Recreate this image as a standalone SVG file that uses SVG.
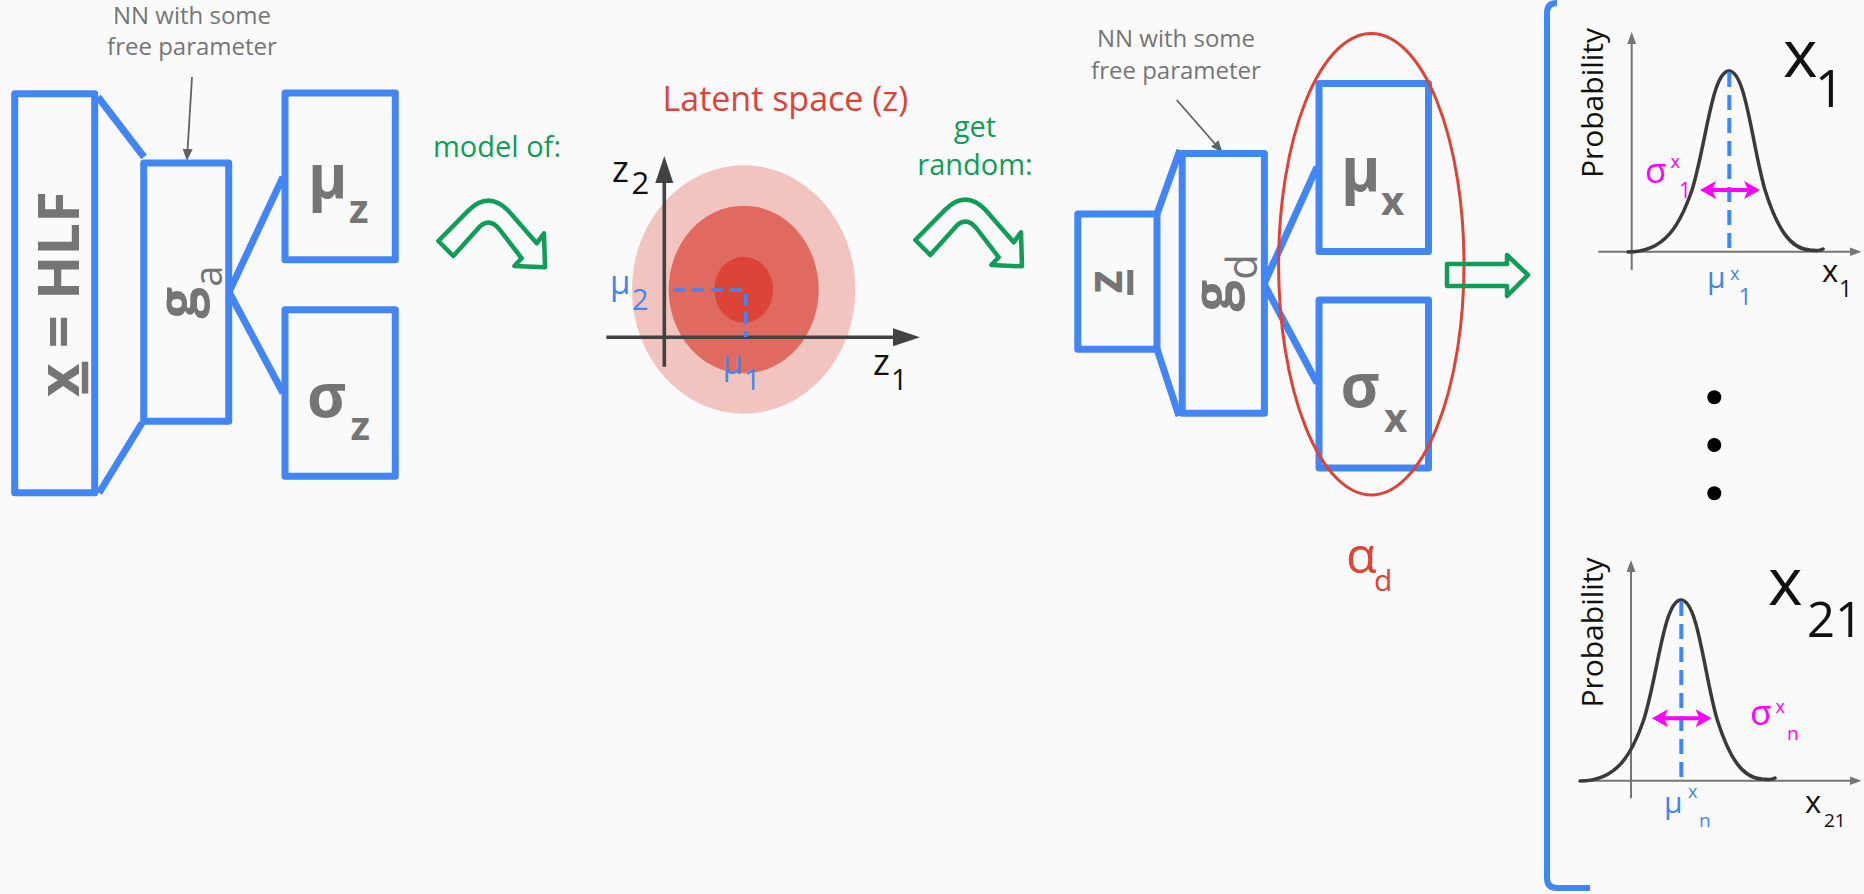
<svg xmlns="http://www.w3.org/2000/svg" width="1864" height="894" viewBox="0 0 1864 894">
<style>
text{font-family:"Open Sans","Liberation Sans",sans-serif}
.box{fill:none;stroke:#4285F4;stroke-width:7;stroke-linejoin:round}
.conn{fill:none;stroke:#4285F4;stroke-width:7}
.gtxt{fill:#757575;font-weight:700}
.note{fill:#757575;font-size:24px;text-anchor:middle}
.green{fill:#0F9D58;font-size:29px}
.garrow{fill:none;stroke:#0F9D58;stroke-width:4.5;stroke-linejoin:round}
.ann{stroke:#616161;stroke-width:1.8;fill:none}
.axis{stroke:#424242;stroke-width:3.6;fill:none}
.paxis{stroke:#757575;stroke-width:2;fill:none}
.curve{fill:none;stroke:#3a3a3a;stroke-width:3.5;stroke-linecap:round}
.dash{stroke:#4285F4;stroke-dasharray:15 8;stroke-width:4;fill:none}
.ldash{stroke:#4285F4;stroke-dasharray:12 7;stroke-width:3.5;fill:none}
.sig{stroke:#FF00FF;stroke-width:4}
.blue{fill:#4285F4}
.mag{fill:#FF00FF}
.blk{fill:#111}
.thin{font-weight:300}
</style>
<defs>
<marker id="ah-ann" markerUnits="userSpaceOnUse" markerWidth="12" markerHeight="10" refX="2" refY="5" orient="auto"><path d="M0,0 L12,5 L0,10 Z" fill="#616161"/></marker>
<marker id="ah-dark" markerUnits="userSpaceOnUse" markerWidth="28" markerHeight="20" refX="6" refY="9" orient="auto"><path d="M0,0 L27,9 L0,18 Z" fill="#424242"/></marker>
<marker id="ah-plot" markerUnits="userSpaceOnUse" markerWidth="14" markerHeight="10" refX="2" refY="4.5" orient="auto"><path d="M0,0 L12,4.5 L0,9 Z" fill="#757575"/></marker>
<marker id="ah-mag" markerUnits="userSpaceOnUse" markerWidth="18" markerHeight="20" refX="4" refY="9" orient="auto-start-reverse"><path d="M0,0 L16,9 L0,18 L4,9 Z" fill="#FF00FF"/></marker>
<path id="bell" d="M1628,252 C1665,252 1680,225 1692,190 C1706,145 1712,71 1729,71 C1746,71 1752,145 1765,190 C1777,228 1790,249 1810,250 C1815,250 1818,252 1823,249"/>
<path id="bendarrow" d="M438.3,241 L468.3,210.7 Q488.3,190.7 508.3,210.7 L536.7,243.3 L544,233.3 L545,267.3 L514.3,266 L521.7,258.3 L500,230 Q488.3,215 476.7,230 L453.3,256 Z"/>
</defs>
<rect x="0" y="0" width="1864" height="894" fill="#FAFAFA"/>

<g id="connectors">
<line class="conn" x1="98" y1="97" x2="144" y2="157"/>
<line class="conn" x1="99" y1="493" x2="142" y2="423"/>
<line class="conn" x1="229" y1="292" x2="283" y2="177"/>
<line class="conn" x1="229" y1="292" x2="283" y2="393"/>
<line class="conn" x1="1157" y1="214" x2="1180" y2="150"/>
<line class="conn" x1="1157" y1="349" x2="1179" y2="416"/>
<line class="conn" x1="1264" y1="284" x2="1317" y2="167"/>
<line class="conn" x1="1264" y1="284" x2="1317" y2="383"/>
<line class="ann" x1="192" y1="77" x2="187.5" y2="151" marker-end="url(#ah-ann)"/>
<line class="ann" x1="1176.8" y1="100" x2="1216" y2="145" marker-end="url(#ah-ann)"/>
</g>

<g id="annot-enc">
<text class="note" x="192" y="24">NN with some</text>
<text class="note" x="192" y="55">free parameter</text>
</g>
<g id="annot-dec">
<text class="note" x="1176" y="47">NN with some</text>
<text class="note" x="1176" y="79">free parameter</text>
</g>

<g id="input">
<rect class="box" x="14.7" y="93.7" width="80" height="399.1"/>
<text class="gtxt" font-size="58" text-anchor="middle" transform="translate(79,294) rotate(-90)">x = HLF</text>
<line x1="85" y1="361.7" x2="85" y2="393.5" stroke="#757575" stroke-width="6.5"/>
</g>

<g id="encoder">
<rect class="box" x="143.7" y="163" width="85" height="258.3"/>
<text class="gtxt" font-size="56" transform="translate(197,318.5) rotate(-90)">g<tspan font-size="38" font-weight="400" dy="25">a</tspan></text>
</g>

<g id="mu_z">
<rect class="box" x="285" y="93" width="110.3" height="166.7"/>
<text class="gtxt" font-size="60" x="308" y="197.7">μ<tspan font-size="40" x="349" y="222.7">z</tspan></text>
</g>
<g id="sigma_z">
<rect class="box" x="285" y="309.7" width="110.3" height="166.6"/>
<text class="gtxt" font-size="60" x="307" y="416.7">σ<tspan font-size="40" x="350.5" y="440">z</tspan></text>
</g>

<g id="model-of">
<text class="green" x="433" y="156.7">model of:</text>
<use href="#bendarrow" class="garrow"/>
</g>

<g id="latent">
<text x="662.5" y="111" font-size="34" fill="#DB4437">Latent space (z)</text>
<ellipse cx="743.7" cy="289.5" rx="111.7" ry="124.2" fill="#F2C4C0"/>
<ellipse cx="743.7" cy="289.5" rx="75" ry="83.8" fill="#E06A5F"/>
<ellipse cx="743.7" cy="289.7" rx="29.5" ry="33" fill="#DB4437"/>
<line class="axis" x1="664.3" y1="366.7" x2="664.3" y2="177" marker-end="url(#ah-dark)"/>
<line class="axis" x1="606.4" y1="337.3" x2="899" y2="337.3" marker-end="url(#ah-dark)"/>
<path class="ldash" d="M673,290 H745.7 V337"/>
<text class="blk" font-size="36" x="612" y="181.7">z<tspan font-size="31" x="631.5" y="194">2</tspan></text>
<text class="blk" font-size="36" x="873" y="375">z<tspan font-size="29" x="891" y="390">1</tspan></text>
<text class="blue" font-size="33" x="610" y="294">μ<tspan font-size="29" x="632" y="310">2</tspan></text>
<text class="blue" font-size="33" x="722.5" y="374">μ<tspan font-size="29" x="744" y="390">1</tspan></text>
</g>

<g id="get-random">
<text class="green" x="975" y="136.7" text-anchor="middle">get</text>
<text class="green" x="975" y="175" text-anchor="middle">random:</text>
<use href="#bendarrow" class="garrow" transform="translate(477,-1)"/>
</g>

<g id="z_sample">
<rect class="box" x="1077.8" y="214" width="79.2" height="135.2"/>
<text class="gtxt" font-size="48" text-anchor="middle" transform="translate(1121.7,281.7) rotate(-90)">z</text>
<line x1="1130.3" y1="270" x2="1130.3" y2="295" stroke="#757575" stroke-width="6"/>
</g>

<g id="decoder">
<rect class="box" x="1182.2" y="153.5" width="82.2" height="259.7"/>
<text class="gtxt" font-size="56" transform="translate(1232,311.5) rotate(-90)">g<tspan font-size="42" font-weight="400" dy="25">d</tspan></text>
</g>

<g id="mu_x">
<rect class="box" x="1319" y="83.5" width="109.5" height="168"/>
<text class="gtxt" font-size="60" x="1341" y="191">μ<tspan font-size="40" x="1381" y="215">x</tspan></text>
</g>
<g id="sigma_x">
<rect class="box" x="1319" y="300" width="109.5" height="168"/>
<text class="gtxt" font-size="60" x="1340.5" y="406.7">σ<tspan font-size="40" x="1384" y="431.7">x</tspan></text>
</g>

<g id="alpha_d">
<ellipse cx="1371.3" cy="264.2" rx="92.7" ry="230.8" fill="none" stroke="#DB4437" stroke-width="3"/>
<text font-size="50" fill="#DB4437" x="1346" y="573.3">α<tspan font-size="30" x="1374" y="591">d</tspan></text>
</g>

<g id="to-output">
<path class="garrow" stroke-width="5" d="M1447,264 H1507 V255 L1528,275 L1507,296 V286 H1447 Z"/>
</g>

<g id="output_panel">
<path d="M1557,3 Q1547,3 1547,13 L1547,878 Q1547,888 1557,888 L1590,888" fill="none" stroke="#4285F4" stroke-width="6"/>
<circle cx="1714.3" cy="397.3" r="7" fill="#000"/>
<circle cx="1714.3" cy="445" r="7" fill="#000"/>
<circle cx="1714.3" cy="493.3" r="7" fill="#000"/>
</g>

<g id="plot_x1">
<line class="paxis" x1="1631.7" y1="270" x2="1631.7" y2="42" marker-end="url(#ah-plot)"/>
<line class="paxis" x1="1598.3" y1="251.7" x2="1851.5" y2="251.7" marker-end="url(#ah-plot)"/>
<use href="#bell" class="curve"/>
<line class="dash" x1="1729.3" y1="72" x2="1729.3" y2="252"/>
<line class="sig" x1="1712" y1="190" x2="1748" y2="190" marker-start="url(#ah-mag)" marker-end="url(#ah-mag)"/>
<text class="blk" font-size="30" text-anchor="middle" transform="translate(1602.7,103) rotate(-90)">Probability</text>
<text class="blk" font-size="66" x="1783" y="76.7">x<tspan font-size="51" x="1815" y="106.7">1</tspan></text>
<text class="blk" font-size="31" x="1822" y="281.7">x<tspan font-size="23" x="1839" y="296.7">1</tspan></text>
<text class="mag" font-size="35" x="1645" y="183.3">σ<tspan font-size="18" x="1670.5" y="168.3">x</tspan><tspan font-size="21" x="1679" y="198.3">1</tspan></text>
<text class="blue" font-size="30" x="1707" y="288.3">μ<tspan font-size="18" x="1730" y="280">x</tspan><tspan font-size="23" x="1738.5" y="305">1</tspan></text>
</g>

<g id="plot_x21">
<line class="paxis" x1="1631" y1="798.3" x2="1631" y2="570" marker-end="url(#ah-plot)"/>
<line class="paxis" x1="1580" y1="780.7" x2="1851.5" y2="780.7" marker-end="url(#ah-plot)"/>
<use href="#bell" class="curve" transform="translate(-48,529)"/>
<line class="dash" x1="1681.3" y1="601" x2="1681.3" y2="781"/>
<line class="sig" x1="1664" y1="718.3" x2="1699.5" y2="718.3" marker-start="url(#ah-mag)" marker-end="url(#ah-mag)"/>
<text class="blk" font-size="30" text-anchor="middle" transform="translate(1602.7,632.5) rotate(-90)">Probability</text>
<text class="blk" font-size="66" x="1768" y="605">x<tspan font-size="49" x="1807" y="636.7">21</tspan></text>
<text class="blk" font-size="31" x="1805" y="813.3">x<tspan font-size="19" x="1824" y="826.7">21</tspan></text>
<text class="mag" font-size="35" x="1750" y="725">σ<tspan font-size="18" x="1775.5" y="713.3">x</tspan><tspan font-size="19" x="1787" y="740">n</tspan></text>
<text class="blue" font-size="30" x="1664" y="813.3">μ<tspan font-size="18" x="1688" y="798.3">x</tspan><tspan font-size="19" x="1699" y="826.7">n</tspan></text>
</g>
</svg>
